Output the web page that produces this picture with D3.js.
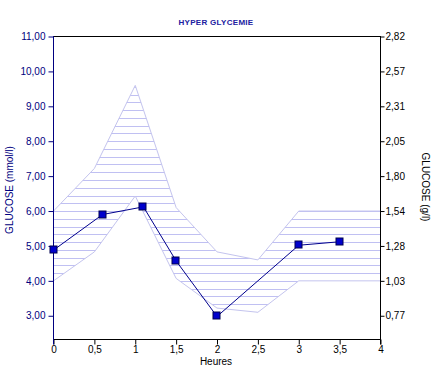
<!DOCTYPE html>
<html>
<head>
<meta charset="utf-8">
<script src="https://cdn.jsdelivr.net/npm/d3@7"></script>
<style>
  body { margin: 0; background: #fff; }
  svg text { font-family: Arial, "Liberation Sans", sans-serif; }
</style>
</head>
<body>
<svg id="chart" width="435" height="368"></svg>
<script>
// glycemia curve (mmol/l)
var hours = [0, 0.6, 1.1, 1.5, 2, 3, 3.5];
var glucose = [4.88, 5.9, 6.12, 4.57, 2.98, 5.02, 5.12];

// reference band
var band_x = [0, 0.5, 1, 1.5, 2, 2.5, 3, 4];
var band_high = [6.0, 7.22, 9.6, 6.1, 4.83, 4.6, 6.0, 6.0];
var band_low = [4.0, 4.83, 6.43, 4.07, 3.22, 3.1, 4.0, 4.0];

var x_ticks = [0, 0.5, 1, 1.5, 2, 2.5, 3, 3.5, 4];
var left_ticks = [11, 10, 9, 8, 7, 6, 5, 4, 3];
var right_labels = ["2,82", "2,57", "2,31", "2,05", "1,80", "1,54", "1,28", "1,03", "0,77"];

var navy = "#000080";
var svg = d3.select("#chart");
var p_left = 53.5, p_right = 380.5, p_top = 36.5, p_bottom = 339.5;

var x = d3.scaleLinear().domain([0, 4]).range([p_left, p_right]);
var y = d3.scaleLinear().domain([2.32, 11]).range([p_bottom, p_top]);
var fr = d3.format(".2f");
var comma = function(v) { return fr(v).replace(".", ","); };

// band with horizontal hatching
var band = band_x.map(function(d, i) { return [d, band_low[i], band_high[i]]; });
var area = d3.area()
    .x(function(d) { return x(d[0]); })
    .y0(function(d) { return y(d[1]); })
    .y1(function(d) { return y(d[2]); });

svg.append("clipPath").attr("id", "bandclip")
    .append("path").attr("d", area(band));

var hatch = [];
for (var v = 4 - 8 * 2 / 9; v <= 10; v += 2 / 9) hatch.push(v);
svg.append("g").attr("clip-path", "url(#bandclip)")
    .selectAll("line").data(hatch).enter()
    .append("line")
        .attr("x1", p_left).attr("x2", p_right)
        .attr("y1", function(d) { return Math.round(y(d)) + 0.5; })
        .attr("y2", function(d) { return Math.round(y(d)) + 0.5; })
        .attr("stroke", "#c0c0f2").attr("stroke-width", 1);

svg.append("path")
    .attr("d", area(band))
    .attr("fill", "none")
    .attr("stroke", "#c4c4ee")
    .attr("stroke-width", 1);

// frame
svg.append("line").attr("x1", p_left).attr("x2", p_right).attr("y1", p_top).attr("y2", p_top).attr("stroke", "#000");

// axes
var ax_bottom = svg.append("g").attr("transform", "translate(0," + p_bottom + ")")
    .call(d3.axisBottom(x).tickValues(x_ticks).tickSizeOuter(0).tickSize(5)
        .tickFormat(function(d) { return String(d).replace(".", ","); }));
ax_bottom.selectAll("text").attr("font-size", 10).attr("fill", "#000").attr("y", 6).attr("font-family", null);
ax_bottom.select(".domain").attr("d", "M" + p_left + ",0H" + p_right);

var ax_left = svg.append("g").attr("transform", "translate(" + p_left + ",0)")
    .call(d3.axisLeft(y).tickValues(left_ticks).tickSizeOuter(0).tickSize(5).tickFormat(comma));
ax_left.select(".domain").attr("stroke", navy).attr("d", "M0," + (p_top - 0.5) + "V" + (p_bottom + 5));
ax_left.selectAll(".tick line").attr("stroke", navy);
ax_left.selectAll("text").attr("font-size", 10).attr("fill", navy).attr("x", -8).attr("font-family", null);

var ax_right = svg.append("g").attr("transform", "translate(" + p_right + ",0)")
    .call(d3.axisRight(y).tickValues(left_ticks).tickSizeOuter(0).tickSize(4)
        .tickFormat(function(d, i) { return right_labels[i]; }));
ax_right.select(".domain").attr("d", "M0," + (p_top - 0.5) + "V" + (p_bottom + 5));
ax_right.selectAll("text").attr("font-size", 10).attr("fill", "#000").attr("x", 5).attr("font-family", null);

// curve
svg.append("path")
    .datum(hours.map(function(d, i) { return [d, glucose[i]]; }))
    .attr("d", d3.line().x(function(d) { return x(d[0]); }).y(function(d) { return y(d[1]); }))
    .attr("fill", "none")
    .attr("stroke", "#00008c")
    .attr("stroke-width", 1);

svg.selectAll("rect.pt").data(hours).enter()
    .append("rect").attr("class", "pt")
        .attr("x", function(d) { return Math.round(x(d)) - 4; })
        .attr("y", function(d, i) { return Math.round(y(glucose[i])) - 4; })
        .attr("width", 7).attr("height", 7)
        .attr("fill", "#0000cc")
        .attr("stroke", "#000050");

// titles
svg.append("text")
    .attr("x", 216).attr("y", 25)
    .attr("text-anchor", "middle")
    .attr("font-size", 8).attr("font-weight", "bold")
    .attr("letter-spacing", 0.3)
    .attr("fill", "#2020a0")
    .text("HYPER GLYCEMIE");

svg.append("text")
    .attr("x", 216).attr("y", 365)
    .attr("text-anchor", "middle")
    .attr("font-size", 10)
    .text("Heures");

svg.append("text")
    .attr("transform", "translate(13,190) rotate(-90)")
    .attr("text-anchor", "middle")
    .attr("font-size", 10).attr("fill", navy)
    .text("GLUCOSE (mmol/l)");

svg.append("text")
    .attr("transform", "translate(422,187) rotate(90)")
    .attr("text-anchor", "middle")
    .attr("font-size", 10).attr("fill", "#000")
    .text("GLUCOSE (g/l)");
</script>
</body>
</html>
